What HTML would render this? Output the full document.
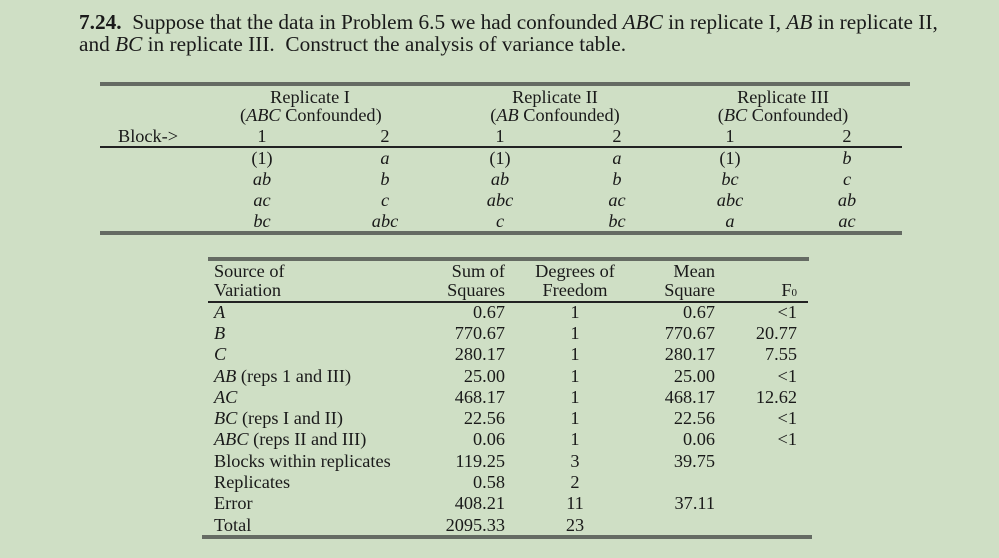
<!DOCTYPE html>
<html><head><meta charset="utf-8"><style>
body{margin:0;width:999px;height:558px;background:#cfdfc5;position:relative;overflow:hidden;font-family:"Liberation Serif",serif;color:#1a1a1a}
.t{position:absolute;white-space:nowrap;font-size:18.3px;line-height:20px;height:20px}
.c{width:140px;text-align:center}
.r{width:140px;text-align:right}
i{font-style:italic}
.ln{position:absolute;background:#656b63}
.title{position:absolute;left:79px;top:11px;font-size:21.3px;line-height:22px;white-space:nowrap}
</style></head><body>
<div class="title"><b>7.24.</b>&nbsp; Suppose that the data in Problem 6.5 we had confounded <i>ABC</i> in replicate I, <i>AB</i> in replicate II,<br>and <i>BC</i> in replicate III.&nbsp; Construct the analysis of variance table.</div>

<div class="ln" style="left:100px;top:82px;width:810px;height:4px"></div>
<div class="ln" style="left:100px;top:146px;width:802px;height:2px;background:#222"></div>
<div class="ln" style="left:100px;top:231px;width:802px;height:4px"></div>

<div class="t c" style="left:240px;top:87px">Replicate I</div>
<div class="t c" style="left:240px;top:105px">(<i>ABC</i> Confounded)</div>
<div class="t c" style="left:485px;top:87px">Replicate II</div>
<div class="t c" style="left:485px;top:105px">(<i>AB</i> Confounded)</div>
<div class="t c" style="left:713px;top:87px">Replicate III</div>
<div class="t c" style="left:713px;top:105px">(<i>BC</i> Confounded)</div>
<div class="t" style="left:118px;top:126px">Block-&gt;</div>

<div class="t c" style="left:192px;top:126px">1</div>
<div class="t c" style="left:315px;top:126px">2</div>
<div class="t c" style="left:430px;top:126px">1</div>
<div class="t c" style="left:547px;top:126px">2</div>
<div class="t c" style="left:660px;top:126px">1</div>
<div class="t c" style="left:777px;top:126px">2</div>

<div class="t c" style="left:192px;top:148px">(1)</div>
<div class="t c" style="left:192px;top:169px"><i>ab</i></div>
<div class="t c" style="left:192px;top:190px"><i>ac</i></div>
<div class="t c" style="left:192px;top:211px"><i>bc</i></div>
<div class="t c" style="left:315px;top:148px"><i>a</i></div>
<div class="t c" style="left:315px;top:169px"><i>b</i></div>
<div class="t c" style="left:315px;top:190px"><i>c</i></div>
<div class="t c" style="left:315px;top:211px"><i>abc</i></div>
<div class="t c" style="left:430px;top:148px">(1)</div>
<div class="t c" style="left:430px;top:169px"><i>ab</i></div>
<div class="t c" style="left:430px;top:190px"><i>abc</i></div>
<div class="t c" style="left:430px;top:211px"><i>c</i></div>
<div class="t c" style="left:547px;top:148px"><i>a</i></div>
<div class="t c" style="left:547px;top:169px"><i>b</i></div>
<div class="t c" style="left:547px;top:190px"><i>ac</i></div>
<div class="t c" style="left:547px;top:211px"><i>bc</i></div>
<div class="t c" style="left:660px;top:148px">(1)</div>
<div class="t c" style="left:660px;top:169px"><i>bc</i></div>
<div class="t c" style="left:660px;top:190px"><i>abc</i></div>
<div class="t c" style="left:660px;top:211px"><i>a</i></div>
<div class="t c" style="left:777px;top:148px"><i>b</i></div>
<div class="t c" style="left:777px;top:169px"><i>c</i></div>
<div class="t c" style="left:777px;top:190px"><i>ab</i></div>
<div class="t c" style="left:777px;top:211px"><i>ac</i></div>

<div class="ln" style="left:208px;top:257px;width:601px;height:4px"></div>
<div class="ln" style="left:208px;top:301px;width:600px;height:2px;background:#222"></div>
<div class="ln" style="left:202px;top:535px;width:610px;height:4px"></div>

<div class="t" style="left:214px;top:261px">Source of</div>
<div class="t" style="left:214px;top:280px">Variation</div>
<div class="t r" style="left:365px;top:261px">Sum of</div>
<div class="t r" style="left:365px;top:280px">Squares</div>
<div class="t c" style="left:505px;top:261px">Degrees of</div>
<div class="t c" style="left:505px;top:280px">Freedom</div>
<div class="t r" style="left:575px;top:261px">Mean</div>
<div class="t r" style="left:575px;top:280px">Square</div>
<div class="t r" style="left:657px;top:280px">F<span style="font-size:11px">0</span></div>

<div class="t" style="left:214px;top:302px"><i>A</i></div>
<div class="t" style="left:214px;top:323px"><i>B</i></div>
<div class="t" style="left:214px;top:344px"><i>C</i></div>
<div class="t" style="left:214px;top:366px"><i>AB</i> (reps 1 and III)</div>
<div class="t" style="left:214px;top:387px"><i>AC</i></div>
<div class="t" style="left:214px;top:408px"><i>BC</i> (reps I and II)</div>
<div class="t" style="left:214px;top:429px"><i>ABC</i> (reps II and III)</div>
<div class="t" style="left:214px;top:451px">Blocks within replicates</div>
<div class="t" style="left:214px;top:472px">Replicates</div>
<div class="t" style="left:214px;top:493px">Error</div>
<div class="t" style="left:214px;top:515px">Total</div>

<div class="t r" style="left:365px;top:302px">0.67</div>
<div class="t r" style="left:365px;top:323px">770.67</div>
<div class="t r" style="left:365px;top:344px">280.17</div>
<div class="t r" style="left:365px;top:366px">25.00</div>
<div class="t r" style="left:365px;top:387px">468.17</div>
<div class="t r" style="left:365px;top:408px">22.56</div>
<div class="t r" style="left:365px;top:429px">0.06</div>
<div class="t r" style="left:365px;top:451px">119.25</div>
<div class="t r" style="left:365px;top:472px">0.58</div>
<div class="t r" style="left:365px;top:493px">408.21</div>
<div class="t r" style="left:365px;top:515px">2095.33</div>

<div class="t c" style="left:505px;top:302px">1</div>
<div class="t c" style="left:505px;top:323px">1</div>
<div class="t c" style="left:505px;top:344px">1</div>
<div class="t c" style="left:505px;top:366px">1</div>
<div class="t c" style="left:505px;top:387px">1</div>
<div class="t c" style="left:505px;top:408px">1</div>
<div class="t c" style="left:505px;top:429px">1</div>
<div class="t c" style="left:505px;top:451px">3</div>
<div class="t c" style="left:505px;top:472px">2</div>
<div class="t c" style="left:505px;top:493px">11</div>
<div class="t c" style="left:505px;top:515px">23</div>

<div class="t r" style="left:575px;top:302px">0.67</div>
<div class="t r" style="left:575px;top:323px">770.67</div>
<div class="t r" style="left:575px;top:344px">280.17</div>
<div class="t r" style="left:575px;top:366px">25.00</div>
<div class="t r" style="left:575px;top:387px">468.17</div>
<div class="t r" style="left:575px;top:408px">22.56</div>
<div class="t r" style="left:575px;top:429px">0.06</div>
<div class="t r" style="left:575px;top:451px">39.75</div>
<div class="t r" style="left:575px;top:493px">37.11</div>

<div class="t r" style="left:657px;top:302px">&lt;1</div>
<div class="t r" style="left:657px;top:323px">20.77</div>
<div class="t r" style="left:657px;top:344px">7.55</div>
<div class="t r" style="left:657px;top:366px">&lt;1</div>
<div class="t r" style="left:657px;top:387px">12.62</div>
<div class="t r" style="left:657px;top:408px">&lt;1</div>
<div class="t r" style="left:657px;top:429px">&lt;1</div>
</body></html>
